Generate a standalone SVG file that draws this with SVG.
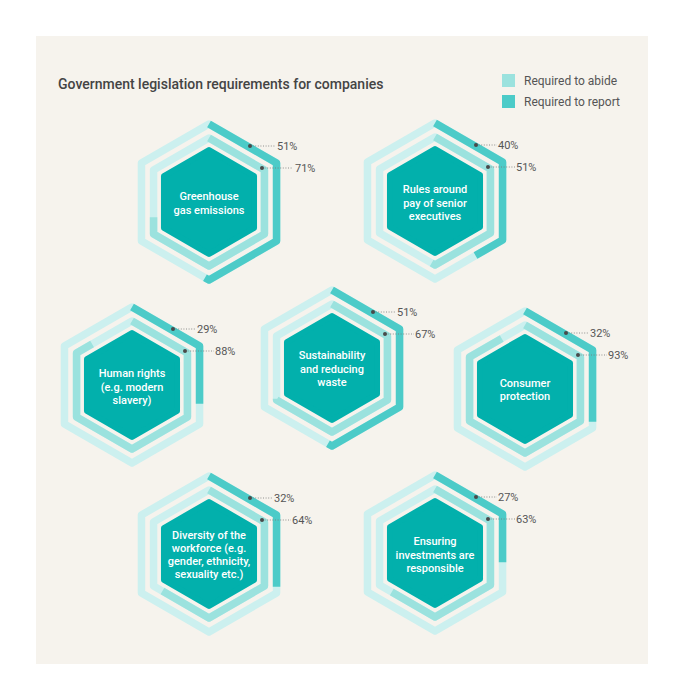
<svg xmlns="http://www.w3.org/2000/svg" xmlns:xlink="http://www.w3.org/1999/xlink" width="684" height="700" viewBox="0 0 684 700">
<style>
.trk{fill:none;stroke:#ccf0ef;stroke-width:7.5;stroke-linejoin:round}
.rep{fill:none;stroke:#4ccbc8;stroke-width:7.5;stroke-linejoin:round}
.abd{fill:none;stroke:#9be2de;stroke-width:7.5;stroke-linejoin:round}
.core{fill:#02b0ac;stroke:#02b0ac;stroke-width:6;stroke-linejoin:round}
.lbl{font-family:Roboto,"Liberation Sans",sans-serif;font-size:11px;font-weight:500;fill:#fff;text-anchor:middle}
.pct{font-family:Roboto,"Liberation Sans",sans-serif;font-size:11px;fill:#555}
.ldr{stroke:#777;stroke-width:0.8;stroke-dasharray:1 1.6}
.dot{fill:#4a4a4a}
</style>
<defs>
<path id="o" pathLength="100" d="M0,-78 L67.55,-39 L67.55,39 L0,78 L-67.55,39 L-67.55,-39 Z"/>
<path id="i" pathLength="100" d="M0,-64 L55.43,-32 L55.43,32 L0,64 L-55.43,32 L-55.43,-32 Z"/>
<path id="c" d="M0,-52 L45.03,-26 L45.03,26 L0,52 L-45.03,26 L-45.03,-26 Z"/>
</defs>
<rect width="684" height="700" fill="#fff"/>
<rect x="36" y="36" width="612" height="628" fill="#f6f3ed"/>
<text x="58" y="89" style="font-family:Roboto,'Liberation Sans',sans-serif;font-size:14px;font-weight:500;fill:#444">Government legislation requirements for companies</text>
<g id="legend">
<rect x="502" y="74" width="13" height="13" fill="#9be2de"/>
<rect x="502" y="95" width="13" height="13" fill="#4ccbc8"/>
<text x="524" y="85" class="pct" style="font-size:12px">Required to abide</text>
<text x="524" y="106" class="pct" style="font-size:12px">Required to report</text>
</g>
<g id="hex1" transform="translate(209,202)">
<use xlink:href="#o" class="trk"/><use xlink:href="#o" class="rep" stroke-dasharray="51 100"/>
<use xlink:href="#i" class="trk"/><use xlink:href="#i" class="abd" stroke-dasharray="71 100"/>
<use xlink:href="#c" class="core"/>
<text class="lbl" y="-2">Greenhouse</text><text class="lbl" y="12">gas emissions</text>
</g>
<g id="hex2" transform="translate(435,201)">
<use xlink:href="#o" class="trk"/><use xlink:href="#o" class="rep" stroke-dasharray="40 100"/>
<use xlink:href="#i" class="trk"/><use xlink:href="#i" class="abd" stroke-dasharray="51 100"/>
<use xlink:href="#c" class="core"/>
<text class="lbl" y="-8">Rules around</text><text class="lbl" y="6">pay of senior</text><text class="lbl" y="19">executives</text>
</g>
<g id="hex3" transform="translate(132,385)">
<use xlink:href="#o" class="trk"/><use xlink:href="#o" class="rep" stroke-dasharray="29 100"/>
<use xlink:href="#i" class="trk"/><use xlink:href="#i" class="abd" stroke-dasharray="88 100"/>
<use xlink:href="#c" class="core"/>
<text class="lbl" y="-8">Human rights</text><text class="lbl" y="6">(e.g. modern</text><text class="lbl" y="19">slavery)</text>
</g>
<g id="hex4" transform="translate(332,368)">
<use xlink:href="#o" class="trk"/><use xlink:href="#o" class="rep" stroke-dasharray="51 100"/>
<use xlink:href="#i" class="trk"/><use xlink:href="#i" class="abd" stroke-dasharray="67 100"/>
<use xlink:href="#c" class="core"/>
<text class="lbl" y="-9">Sustainability</text><text class="lbl" y="5">and reducing</text><text class="lbl" y="18">waste</text>
</g>
<g id="hex5" transform="translate(525,389)">
<use xlink:href="#o" class="trk"/><use xlink:href="#o" class="rep" stroke-dasharray="32 100"/>
<use xlink:href="#i" class="trk"/><use xlink:href="#i" class="abd" stroke-dasharray="93 100"/>
<use xlink:href="#c" class="core"/>
<text class="lbl" y="-2">Consumer</text><text class="lbl" y="11">protection</text>
</g>
<g id="hex6" transform="translate(209,554)">
<use xlink:href="#o" class="trk"/><use xlink:href="#o" class="rep" stroke-dasharray="32 100"/>
<use xlink:href="#i" class="trk"/><use xlink:href="#i" class="abd" stroke-dasharray="64 100"/>
<use xlink:href="#c" class="core"/>
<text class="lbl" y="-15">Diversity of the</text><text class="lbl" y="-2">workforce (e.g.</text><text class="lbl" y="11">gender, ethnicity,</text><text class="lbl" y="24">sexuality etc.)</text>
</g>
<g id="hex7" transform="translate(435,553)">
<use xlink:href="#o" class="trk"/><use xlink:href="#o" class="rep" stroke-dasharray="27 100"/>
<use xlink:href="#i" class="trk"/><use xlink:href="#i" class="abd" stroke-dasharray="63 100"/>
<use xlink:href="#c" class="core"/>
<text class="lbl" y="-8">Ensuring</text><text class="lbl" y="6">investments are</text><text class="lbl" y="19">responsible</text>
</g>
<g id="connectors">
<g transform="translate(209,202)"><line class="ldr" x1="41" y1="-56" x2="66" y2="-56"/><circle class="dot" cx="41" cy="-56" r="2"/><text class="pct" x="68" y="-52">51%</text><line class="ldr" x1="53" y1="-34" x2="84" y2="-34"/><circle class="dot" cx="53" cy="-34" r="2"/><text class="pct" x="86" y="-30">71%</text></g>
<g transform="translate(435,201)"><line class="ldr" x1="41" y1="-56" x2="62" y2="-56"/><circle class="dot" cx="41" cy="-56" r="2"/><text class="pct" x="63" y="-52">40%</text><line class="ldr" x1="53" y1="-34" x2="80" y2="-34"/><circle class="dot" cx="53" cy="-34" r="2"/><text class="pct" x="81" y="-30">51%</text></g>
<g transform="translate(132,385)"><line class="ldr" x1="41" y1="-56" x2="64" y2="-56"/><circle class="dot" cx="41" cy="-56" r="2"/><text class="pct" x="65" y="-52">29%</text><line class="ldr" x1="53" y1="-34" x2="82" y2="-34"/><circle class="dot" cx="53" cy="-34" r="2"/><text class="pct" x="83" y="-30">88%</text></g>
<g transform="translate(332,368)"><line class="ldr" x1="41" y1="-56" x2="64" y2="-56"/><circle class="dot" cx="41" cy="-56" r="2"/><text class="pct" x="65" y="-52">51%</text><line class="ldr" x1="53" y1="-34" x2="82" y2="-34"/><circle class="dot" cx="53" cy="-34" r="2"/><text class="pct" x="83" y="-30">67%</text></g>
<g transform="translate(525,389)"><line class="ldr" x1="41" y1="-56" x2="64" y2="-56"/><circle class="dot" cx="41" cy="-56" r="2"/><text class="pct" x="65" y="-52">32%</text><line class="ldr" x1="53" y1="-34" x2="82" y2="-34"/><circle class="dot" cx="53" cy="-34" r="2"/><text class="pct" x="83" y="-30">93%</text></g>
<g transform="translate(209,554)"><line class="ldr" x1="41" y1="-56" x2="64" y2="-56"/><circle class="dot" cx="41" cy="-56" r="2"/><text class="pct" x="65" y="-52">32%</text><line class="ldr" x1="53" y1="-34" x2="82" y2="-34"/><circle class="dot" cx="53" cy="-34" r="2"/><text class="pct" x="83" y="-30">64%</text></g>
<g transform="translate(435,553)"><line class="ldr" x1="41" y1="-56" x2="62" y2="-56"/><circle class="dot" cx="41" cy="-56" r="2"/><text class="pct" x="63" y="-52">27%</text><line class="ldr" x1="53" y1="-34" x2="80" y2="-34"/><circle class="dot" cx="53" cy="-34" r="2"/><text class="pct" x="81" y="-30">63%</text></g>
</g>
</svg>
